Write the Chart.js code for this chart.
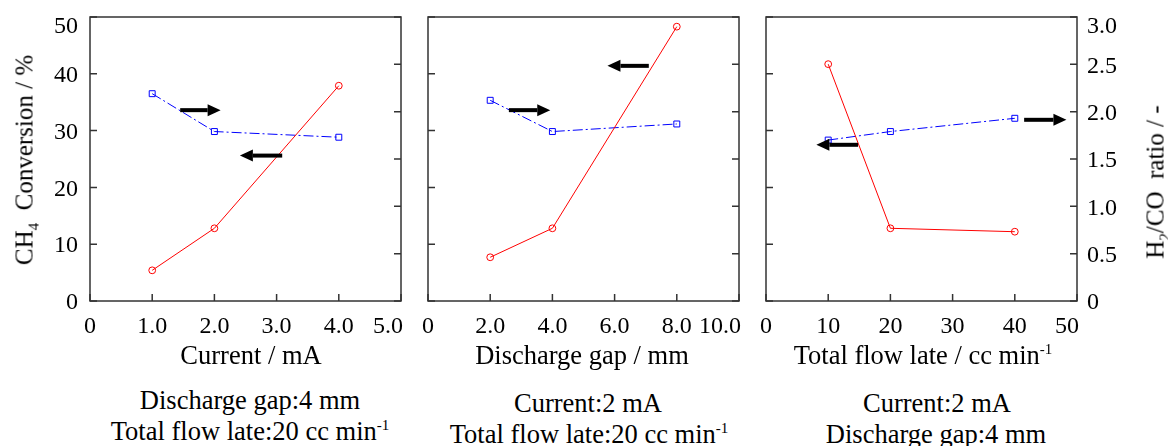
<!DOCTYPE html>
<html>
<head>
<meta charset="utf-8">
<script src="https://cdn.jsdelivr.net/npm/chart.js@4/dist/chart.umd.min.js"></script>
<style>
  body { margin: 0; width: 1168px; height: 446px; background: #fff; position: relative; overflow: hidden;
         font-family: 'Liberation Serif', 'Times New Roman', serif; color: #000; }
  canvas { position: absolute; top: 0; }
  .lbl { position: absolute; white-space: nowrap; font-size: 26.5px; line-height: 1; transform: translate(-50%, -50%); }
  .rot { font-size: 25px; transform: translate(-50%, -50%) rotate(-90deg); }
  sub, sup { font-size: 15px; line-height: 0; }
</style>
</head>
<body>
<canvas id="c1" width="491" height="340" style="left:0px"></canvas>
<canvas id="c2" width="491" height="340" style="left:338px"></canvas>
<canvas id="c3" width="491" height="340" style="left:676px"></canvas>

<div class="lbl rot" style="left:24px; top:160px">CH<sub>4</sub>&nbsp; Conversion / %</div>
<div class="lbl rot" style="left:1155px; top:182px">H<sub>2</sub>/CO&nbsp; ratio / -</div>

<div class="lbl" style="left:251px; top:355px">Current / mA</div>
<div class="lbl" style="left:582px; top:355px">Discharge gap / mm</div>
<div class="lbl" style="left:923px; top:355px">Total flow late / cc min<sup>-1</sup></div>

<div class="lbl" style="left:250px; top:400px">Discharge gap:4 mm</div>
<div class="lbl" style="left:250px; top:431px">Total flow late:20 cc min<sup>-1</sup></div>
<div class="lbl" style="left:588px; top:403px">Current:2 mA</div>
<div class="lbl" style="left:589px; top:434px">Total flow late:20 cc min<sup>-1</sup></div>
<div class="lbl" style="left:937px; top:403px">Current:2 mA</div>
<div class="lbl" style="left:936px; top:434px">Discharge gap:4 mm</div>

<script>
// values
const currentX = [1.0, 2.0, 4.0];
const currentConv = [5.4, 12.8, 37.9];
const currentRatio = [2.19, 1.79, 1.73];

const gapX = [2.0, 4.0, 8.0];
const gapConv = [7.7, 12.8, 48.3];
const gapRatio = [2.12, 1.79, 1.87];

const flowX = [10, 20, 40];
const flowConv = [41.7, 12.8, 12.2];
const flowRatio = [1.70, 1.79, 1.93];

const currentTicks = [0, 1, 2, 3, 4, 5];
const gapTicks = [0, 2, 4, 6, 8, 10];
const flowTicks = [0, 10, 20, 30, 40, 50];
const convTicks = [0, 10, 20, 30, 40, 50];
const ratioTicks = [0, 0.5, 1.0, 1.5, 2.0, 2.5, 3.0];

// arrows: [x start, x end, y on conversion axis]
const currentArrows = [[1.45, 2.1, 33.6], [3.09, 2.41, 25.6]];
const gapArrows = [[2.6, 3.93, 33.6], [7.1, 5.77, 41.4]];
const flowArrows = [[41.5, 48.3, 31.9], [14.8, 8.1, 27.5]];

const fontFamily = "'Liberation Serif', 'Times New Roman', serif";
const tickFont = { family: fontFamily, size: 24 };
const yTickFont = { family: fontFamily, size: 24, lineHeight: 0.5 };
const xPad = 11;
const hidden = 'rgba(0,0,0,0)';

const oneDec = v => v === 0 ? '0' : v.toFixed(1);
const noDec = v => String(v);
const last = arr => arr[arr.length - 1];

// fixed axis box sizes so the three frames line up
const fixY = s => { s.width = 90; s.paddingTop = 0; s.paddingBottom = 0; };

const framePlugin = {
  id: 'frame',
  beforeDatasetsDraw(chart) {
    const { ctx, chartArea: a, scales } = chart;
    ctx.save();
    ctx.strokeStyle = '#333';
    ctx.lineWidth = 1.5;
    ctx.strokeRect(a.left, a.top, a.right - a.left, a.bottom - a.top);
    ctx.beginPath();
    const len = 7;
    scales.x.ticks.forEach(t => {
      const px = scales.x.getPixelForValue(t.value);
      ctx.moveTo(px, a.bottom); ctx.lineTo(px, a.bottom - len);
    });
    scales.y.ticks.forEach(t => {
      const py = scales.y.getPixelForValue(t.value);
      ctx.moveTo(a.left, py); ctx.lineTo(a.left + len, py);
    });
    scales.y1.ticks.forEach(t => {
      const py = scales.y1.getPixelForValue(t.value);
      ctx.moveTo(a.right, py); ctx.lineTo(a.right - len, py);
    });
    ctx.stroke();
    ctx.restore();
  },
  afterDatasetsDraw(chart, args, opts) {
    const { ctx, scales } = chart;
    ctx.save();
    ctx.fillStyle = '#000';
    ctx.strokeStyle = '#000';
    (opts.arrows || []).forEach(([x1, x2, yv]) => {
      const p1 = scales.x.getPixelForValue(x1);
      const p2 = scales.x.getPixelForValue(x2);
      const py = scales.y.getPixelForValue(yv);
      const dir = Math.sign(p2 - p1);
      const head = 13;
      ctx.lineWidth = 4;
      ctx.beginPath();
      ctx.moveTo(p1, py);
      ctx.lineTo(p2 - dir * head, py);
      ctx.stroke();
      ctx.beginPath();
      ctx.moveTo(p2, py);
      ctx.lineTo(p2 - dir * head, py - 6);
      ctx.lineTo(p2 - dir * head, py + 6);
      ctx.closePath();
      ctx.fill();
    });
    ctx.restore();
  },
  afterDraw(chart, args, opts) {
    // edge labels are kept inside the frame, like the original
    const { ctx, chartArea: a, scales } = chart;
    ctx.save();
    ctx.fillStyle = '#000';
    ctx.font = tickFont.size + 'px ' + fontFamily;
    ctx.textAlign = 'right';
    ctx.textBaseline = 'middle';
    ctx.fillText(opts.xFmt(last(opts.xTicks)), a.right + 2, scales.x.top + xPad + tickFont.size * 0.6);
    if (opts.showLeft) {
      ctx.textAlign = 'right';
      ctx.fillText(String(last(convTicks)), a.left - 12, a.top + 10);
    }
    if (opts.showRight) {
      ctx.textAlign = 'left';
      ctx.fillText(oneDec(last(ratioTicks)), a.right + 10, a.top + 10);
    }
    ctx.restore();
  }
};

function makeChart(id, xs, conv, ratio, xTicks, xFmt, showLeft, showRight, arrows) {
  const ctx = document.getElementById(id).getContext('2d');
  return new Chart(ctx, {
    type: 'line',
    data: {
      datasets: [{
        label: 'CH4 Conversion',
        data: xs.map((x, i) => ({ x: x, y: conv[i] })),
        yAxisID: 'y',
        borderColor: '#ff0000',
        borderWidth: 1,
        pointStyle: 'circle',
        pointRadius: 3.4,
        pointBorderColor: '#ff0000',
        pointBackgroundColor: 'rgba(0,0,0,0)',
        pointBorderWidth: 1
      }, {
        label: 'H2/CO ratio',
        data: xs.map((x, i) => ({ x: x, y: ratio[i] })),
        yAxisID: 'y1',
        borderColor: '#0000ff',
        borderWidth: 1,
        borderDash: [10, 3, 2, 3],
        pointStyle: 'rect',
        pointRadius: 4.2,
        pointBorderColor: '#0000ff',
        pointBackgroundColor: 'rgba(0,0,0,0)',
        pointBorderWidth: 1
      }]
    },
    options: {
      responsive: false,
      animation: false,
      devicePixelRatio: 1,
      layout: { autoPadding: false, padding: { top: 17, left: 0, right: 0, bottom: 0 } },
      plugins: {
        legend: { display: false },
        tooltip: { enabled: false },
        frame: { arrows: arrows, xTicks: xTicks, xFmt: xFmt, showLeft: showLeft, showRight: showRight }
      },
      scales: {
        x: {
          type: 'linear',
          min: xTicks[0],
          max: last(xTicks),
          grid: { display: false, drawTicks: false },
          border: { display: false },
          afterBuildTicks: s => { s.ticks = xTicks.map(v => ({ value: v })); },
          afterFit: s => { s.height = 39; },
          ticks: { font: tickFont, color: '#000', padding: xPad, maxRotation: 0, autoSkip: false,
                   callback: v => v === last(xTicks) ? '' : xFmt(v) }
        },
        y: {
          position: 'left',
          min: 0,
          max: 50,
          grid: { display: false, drawTicks: false },
          border: { display: false },
          afterBuildTicks: s => { s.ticks = convTicks.map(v => ({ value: v })); },
          afterFit: fixY,
          ticks: { font: yTickFont, color: showLeft ? '#000' : hidden, padding: 12, labelOffset: 2,
                   callback: v => v === last(convTicks) ? '' : String(v) }
        },
        y1: {
          position: 'right',
          min: 0,
          max: 3,
          grid: { display: false, drawTicks: false },
          border: { display: false },
          afterBuildTicks: s => { s.ticks = ratioTicks.map(v => ({ value: v })); },
          afterFit: fixY,
          ticks: { font: yTickFont, color: showRight ? '#000' : hidden, padding: 10, labelOffset: 2,
                   callback: v => v === last(ratioTicks) ? '' : oneDec(v) }
        }
      }
    },
    plugins: [framePlugin]
  });
}

makeChart('c1', currentX, currentConv, currentRatio, currentTicks, oneDec, true, false, currentArrows);
makeChart('c2', gapX, gapConv, gapRatio, gapTicks, oneDec, false, false, gapArrows);
makeChart('c3', flowX, flowConv, flowRatio, flowTicks, noDec, false, true, flowArrows);
</script>
</body>
</html>
